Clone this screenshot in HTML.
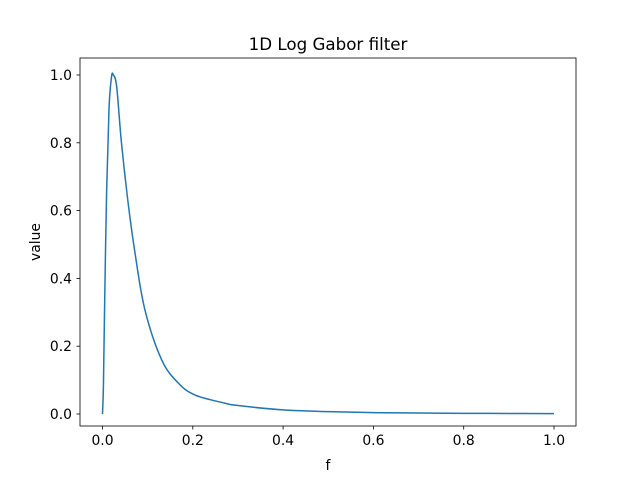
<!DOCTYPE html>
<html><head><meta charset="utf-8"><style>
body{margin:0;background:#fff;}
svg text{font-family:"DejaVu Sans","Liberation Sans",sans-serif;fill:#000;}
</style></head><body>
<svg width="640" height="484">
<rect x="0" y="0" width="640" height="484" fill="#fff"/>
<g id="plot"></g>
<rect x="80" y="58" width="496" height="368" fill="none" stroke="#000" stroke-width="0.8"/>
<text x="328" y="50" font-size="16.7" text-anchor="middle">1D Log Gabor filter</text>
<text x="328" y="470" font-size="13.9" text-anchor="middle">f</text>
<text x="0" y="0" font-size="13.9" text-anchor="middle" transform="translate(40,242) rotate(-90)">value</text>
<g id="xt"></g><g id="yt"></g>
</svg>
<script>
const xs=[0,0.002,0.004,0.009,0.0144,0.02,0.024,0.0314,0.042,0.057,0.072,0.094,0.131,0.168,0.205,0.271,0.3,0.4,0.5,0.6,0.7,0.8,0.9,1.0];
const ys=[0,0.08,0.26,0.65,0.90,0.995,1.0,0.966,0.80,0.62,0.475,0.307,0.16,0.091,0.056,0.032,0.025,0.012,0.007,0.004,0.003,0.002,0.0015,0.001];
const xTicks=[0,0.2,0.4,0.6,0.8,1.0];
const yTicks=[0,0.2,0.4,0.6,0.8,1.0];
const X=v=>102.5+v*451.5, Y=v=>414-v*339;
const NS="http://www.w3.org/2000/svg";
const plot=document.getElementById('plot');
const pts=xs.map((x,i)=>[X(x),Y(ys[i])]);
let d='M'+pts[0][0]+' '+pts[0][1];
for(let i=0;i<pts.length-1;i++){
 const p0=pts[Math.max(0,i-1)],p1=pts[i],p2=pts[i+1],p3=pts[Math.min(pts.length-1,i+2)];
 const c1=[p1[0]+(p2[0]-p0[0])/6,p1[1]+(p2[1]-p0[1])/6];
 const c2=[p2[0]-(p3[0]-p1[0])/6,p2[1]-(p3[1]-p1[1])/6];
 d+='C'+c1[0]+' '+c1[1]+' '+c2[0]+' '+c2[1]+' '+p2[0]+' '+p2[1];
}
const p=document.createElementNS(NS,'path');
p.setAttribute('d',d);
p.setAttribute('fill','none');p.setAttribute('stroke','#1f77b4');p.setAttribute('stroke-width','1.5');p.setAttribute('stroke-linejoin','round');


plot.appendChild(p);
const xt=document.getElementById('xt'),yt=document.getElementById('yt');
xTicks.forEach(t=>{
 const l=document.createElementNS(NS,'line');
 l.setAttribute('x1',X(t));l.setAttribute('x2',X(t));l.setAttribute('y1',426);l.setAttribute('y2',429.5);l.setAttribute('stroke','#000');l.setAttribute('stroke-width','0.8');
 
 
 xt.appendChild(l);
 const s=document.createElementNS(NS,'text');
 s.setAttribute('x',X(t));s.setAttribute('y',445);s.setAttribute('font-size','13.9');s.setAttribute('text-anchor','middle');s.textContent=t.toFixed(1);
 
 
 xt.appendChild(s);
});
yTicks.forEach(t=>{
 const l=document.createElementNS(NS,'line');
 l.setAttribute('x1',76.5);l.setAttribute('x2',80);l.setAttribute('y1',Y(t));l.setAttribute('y2',Y(t));l.setAttribute('stroke','#000');l.setAttribute('stroke-width','0.8');
 
 
 yt.appendChild(l);
 const s=document.createElementNS(NS,'text');
 s.setAttribute('x',72);s.setAttribute('y',Y(t)+5);s.setAttribute('font-size','13.9');s.setAttribute('text-anchor','end');s.textContent=t.toFixed(1);
 
 
 yt.appendChild(s);
});
</script>
</body></html>
